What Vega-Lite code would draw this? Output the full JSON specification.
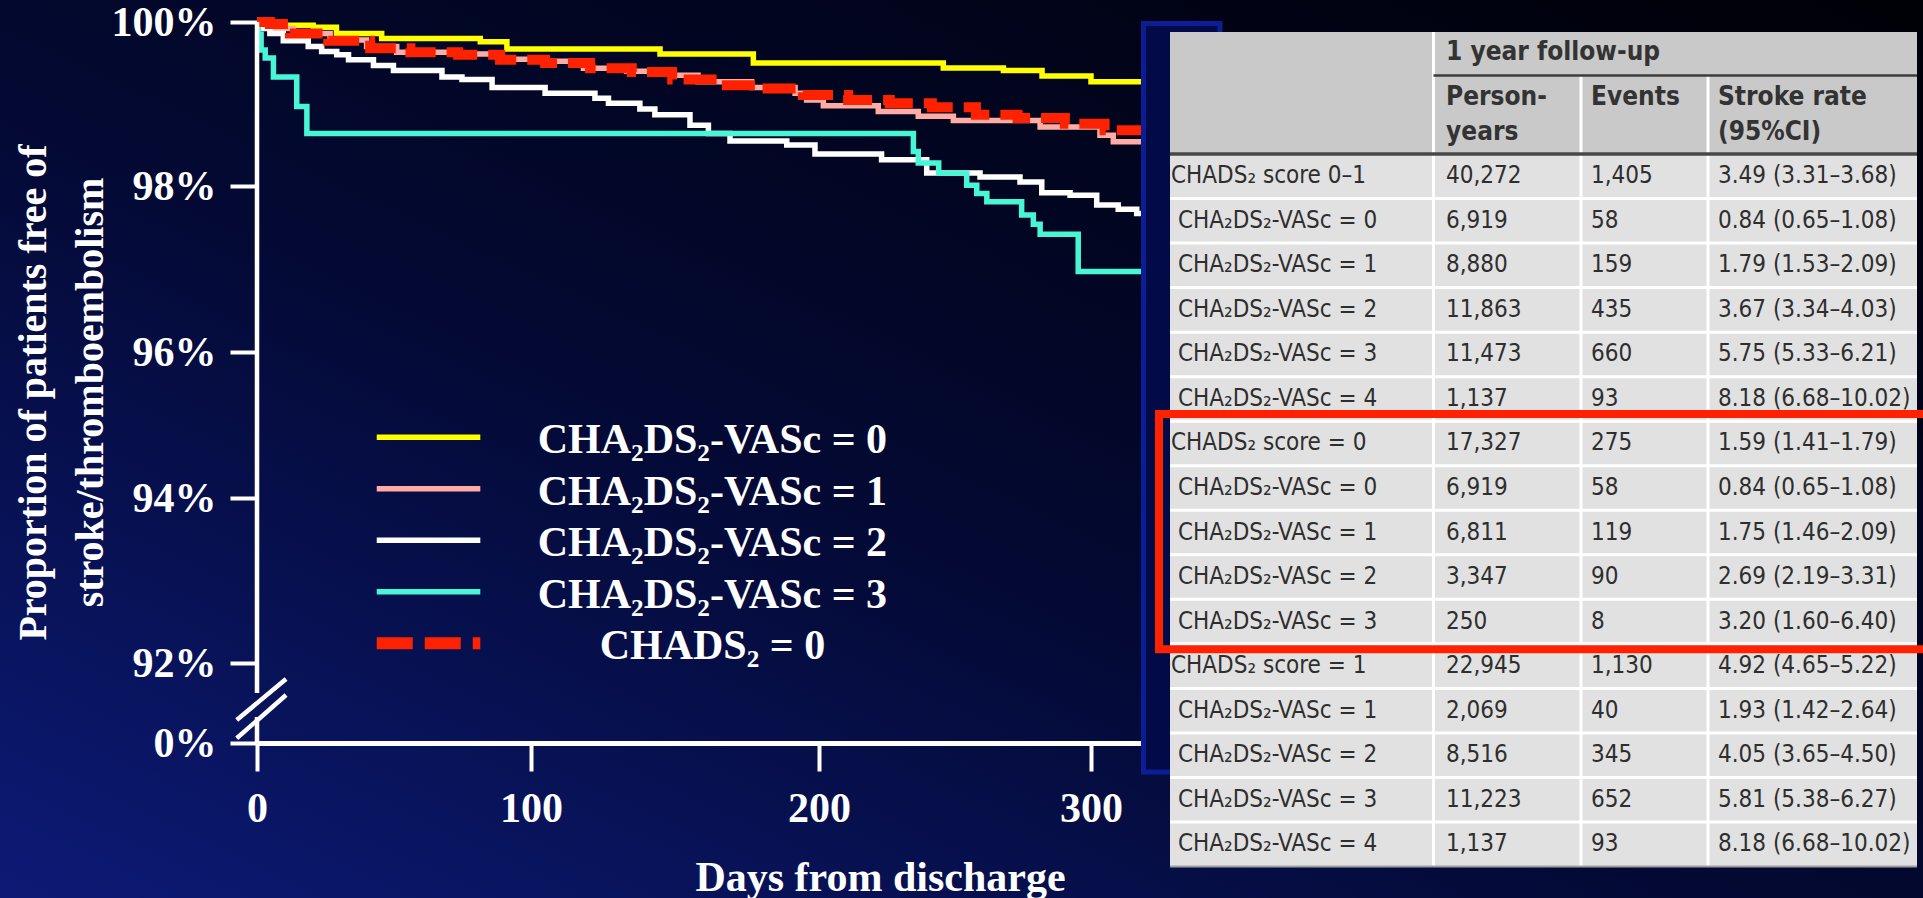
{
  "$schema": "https://vega.github.io/schema/vega-lite/v6.json",
  "width": 1923,
  "height": 898,
  "autosize": "none",
  "padding": 0,
  "background": "#02041e",
  "config": {
    "view": {
      "stroke": null,
      "fill": {"gradient": "linear", "x1": 0, "y1": 1, "x2": 1, "y2": 0,
        "stops": [{"offset": 0, "color": "#0c1a76"}, {"offset": 0.45, "color": "#030932"}, {"offset": 1, "color": "#000006"}]}
    }
  },
  "datasets": {
    "km": [
      {"s":"v0","d":0,"p":100},{"s":"v0","d":5.8,"p":99.96},{"s":"v0","d":20.5,"p":99.935},{"s":"v0","d":29,"p":99.86},{"s":"v0","d":45.5,"p":99.8},{"s":"v0","d":81.5,"p":99.76},{"s":"v0","d":91.2,"p":99.67},{"s":"v0","d":144.8,"p":99.61},{"s":"v0","d":177.2,"p":99.5},{"s":"v0","d":245.7,"p":99.44},{"s":"v0","d":267.8,"p":99.41},{"s":"v0","d":282,"p":99.34},{"s":"v0","d":300,"p":99.27},{"s":"v0","d":335,"p":99.27},
      {"s":"v1","d":0,"p":100},{"s":"v1","d":1,"p":99.96},{"s":"v1","d":4.7,"p":99.92},{"s":"v1","d":13.3,"p":99.86},{"s":"v1","d":26.7,"p":99.78},{"s":"v1","d":40,"p":99.7},{"s":"v1","d":51,"p":99.63},{"s":"v1","d":73,"p":99.61},{"s":"v1","d":88.8,"p":99.545},{"s":"v1","d":104.3,"p":99.52},{"s":"v1","d":118.2,"p":99.435},{"s":"v1","d":133.2,"p":99.4},{"s":"v1","d":148.9,"p":99.35},{"s":"v1","d":158,"p":99.27},{"s":"v1","d":176.6,"p":99.2},{"s":"v1","d":191.7,"p":99.13},{"s":"v1","d":195.7,"p":99.05},{"s":"v1","d":201.6,"p":98.98},{"s":"v1","d":221.8,"p":98.91},{"s":"v1","d":236.5,"p":98.85},{"s":"v1","d":249.4,"p":98.8},{"s":"v1","d":281.3,"p":98.72},{"s":"v1","d":303.3,"p":98.62},{"s":"v1","d":308.2,"p":98.54},{"s":"v1","d":335,"p":98.54},
      {"s":"v2","d":0,"p":100},{"s":"v2","d":1.5,"p":99.92},{"s":"v2","d":4.7,"p":99.86},{"s":"v2","d":9.6,"p":99.77},{"s":"v2","d":18.7,"p":99.7},{"s":"v2","d":23.6,"p":99.64},{"s":"v2","d":29.1,"p":99.6},{"s":"v2","d":33.4,"p":99.54},{"s":"v2","d":42.5,"p":99.47},{"s":"v2","d":49.8,"p":99.41},{"s":"v2","d":67.5,"p":99.33},{"s":"v2","d":74.8,"p":99.3},{"s":"v2","d":85.8,"p":99.2},{"s":"v2","d":104.9,"p":99.13},{"s":"v2","d":122.2,"p":99.07},{"s":"v2","d":126.9,"p":99.01},{"s":"v2","d":137.8,"p":98.94},{"s":"v2","d":143,"p":98.87},{"s":"v2","d":155.2,"p":98.74},{"s":"v2","d":161.6,"p":98.64},{"s":"v2","d":169.1,"p":98.55},{"s":"v2","d":188.8,"p":98.5},{"s":"v2","d":198.6,"p":98.39},{"s":"v2","d":223,"p":98.32},{"s":"v2","d":239.6,"p":98.16},{"s":"v2","d":259.2,"p":98.11},{"s":"v2","d":273.9,"p":98.05},{"s":"v2","d":281.9,"p":97.92},{"s":"v2","d":292.3,"p":97.89},{"s":"v2","d":302.1,"p":97.77},{"s":"v2","d":310,"p":97.72},{"s":"v2","d":316.8,"p":97.67},{"s":"v2","d":335,"p":97.67},
      {"s":"v3","d":0,"p":100},{"s":"v3","d":0.5,"p":99.85},{"s":"v3","d":1.5,"p":99.66},{"s":"v3","d":3,"p":99.56},{"s":"v3","d":6,"p":99.33},{"s":"v3","d":14.5,"p":98.97},{"s":"v3","d":18.2,"p":98.64},{"s":"v3","d":234.7,"p":98.42},{"s":"v3","d":236.5,"p":98.28},{"s":"v3","d":244,"p":98.155},{"s":"v3","d":254.3,"p":98.01},{"s":"v3","d":258,"p":97.91},{"s":"v3","d":261.7,"p":97.81},{"s":"v3","d":274.5,"p":97.65},{"s":"v3","d":278.8,"p":97.54},{"s":"v3","d":281.3,"p":97.42},{"s":"v3","d":295.3,"p":96.97},{"s":"v3","d":335,"p":96.97},
      {"s":"c0","d":0,"p":100},{"s":"c0","d":4.7,"p":99.975},{"s":"c0","d":12,"p":99.86},{"s":"c0","d":26,"p":99.77},{"s":"c0","d":41.3,"p":99.68},{"s":"c0","d":56,"p":99.63},{"s":"c0","d":73.4,"p":99.6},{"s":"c0","d":88.7,"p":99.54},{"s":"c0","d":104.9,"p":99.5},{"s":"c0","d":120.5,"p":99.435},{"s":"c0","d":135,"p":99.39},{"s":"c0","d":149,"p":99.3},{"s":"c0","d":165,"p":99.23},{"s":"c0","d":179.5,"p":99.19},{"s":"c0","d":194.4,"p":99.11},{"s":"c0","d":210.7,"p":99.05},{"s":"c0","d":226,"p":99.01},{"s":"c0","d":241.5,"p":98.96},{"s":"c0","d":257.7,"p":98.87},{"s":"c0","d":273,"p":98.83},{"s":"c0","d":290.4,"p":98.76},{"s":"c0","d":305,"p":98.68},{"s":"c0","d":335,"p":98.68}
    ],
    "legend": [
      {"s":"v0","label":"CHA₂DS₂-VASc = 0"},
      {"s":"v1","label":"CHA₂DS₂-VASc = 1"},
      {"s":"v2","label":"CHA₂DS₂-VASc = 2"},
      {"s":"v3","label":"CHA₂DS₂-VASc = 3"},
      {"s":"c0","label":"CHADS₂ = 0"}
    ],
    "breaks": [
      {"d":0,"p":100,"d2":0,"p2":57.5},
      {"d":0,"p":29.9,"d2":0,"p2":0},
      {"d":-7.4,"p":26.45,"d2":10.6,"p2":73.6},
      {"d":-7.4,"p":5.4,"d2":10.6,"p2":55.2}
    ],
    "table": [
      {"row":0,"kind":"g","label":"CHADS₂ score 0–1","py":"40,272","ev":"1,405","rate":"3.49 (3.31–3.68)"},
      {"row":1,"kind":"s","label":"CHA₂DS₂-VASc = 0","py":"6,919","ev":"58","rate":"0.84 (0.65–1.08)"},
      {"row":2,"kind":"s","label":"CHA₂DS₂-VASc = 1","py":"8,880","ev":"159","rate":"1.79 (1.53–2.09)"},
      {"row":3,"kind":"s","label":"CHA₂DS₂-VASc = 2","py":"11,863","ev":"435","rate":"3.67 (3.34–4.03)"},
      {"row":4,"kind":"s","label":"CHA₂DS₂-VASc = 3","py":"11,473","ev":"660","rate":"5.75 (5.33–6.21)"},
      {"row":5,"kind":"s","label":"CHA₂DS₂-VASc = 4","py":"1,137","ev":"93","rate":"8.18 (6.68–10.02)"},
      {"row":6,"kind":"g","label":"CHADS₂ score = 0","py":"17,327","ev":"275","rate":"1.59 (1.41–1.79)"},
      {"row":7,"kind":"s","label":"CHA₂DS₂-VASc = 0","py":"6,919","ev":"58","rate":"0.84 (0.65–1.08)"},
      {"row":8,"kind":"s","label":"CHA₂DS₂-VASc = 1","py":"6,811","ev":"119","rate":"1.75 (1.46–2.09)"},
      {"row":9,"kind":"s","label":"CHA₂DS₂-VASc = 2","py":"3,347","ev":"90","rate":"2.69 (2.19–3.31)"},
      {"row":10,"kind":"s","label":"CHA₂DS₂-VASc = 3","py":"250","ev":"8","rate":"3.20 (1.60–6.40)"},
      {"row":11,"kind":"g","label":"CHADS₂ score = 1","py":"22,945","ev":"1,130","rate":"4.92 (4.65–5.22)"},
      {"row":12,"kind":"s","label":"CHA₂DS₂-VASc = 1","py":"2,069","ev":"40","rate":"1.93 (1.42–2.64)"},
      {"row":13,"kind":"s","label":"CHA₂DS₂-VASc = 2","py":"8,516","ev":"345","rate":"4.05 (3.65–4.50)"},
      {"row":14,"kind":"s","label":"CHA₂DS₂-VASc = 3","py":"11,223","ev":"652","rate":"5.81 (5.38–6.27)"},
      {"row":15,"kind":"s","label":"CHA₂DS₂-VASc = 4","py":"1,137","ev":"93","rate":"8.18 (6.68–10.02)"}
    ]
  },
  "layer": [
    {
      "data": {"name": "km"},
      "transform": [{"filter": "datum.s !== 'c0'"}],
      "mark": {"type": "line", "interpolate": "step-after", "strokeWidth": 5.5, "clip": false},
      "encoding": {
        "x": {"field": "d", "type": "quantitative",
          "scale": {"domain": [0, 100, 200, 300, 400], "range": [257, 531, 819, 1091, 1363], "nice": false, "zero": false},
          "axis": {"orient": "bottom", "offset": -155, "values": [0, 100, 200, 300], "grid": false,
            "domain": true, "domainColor": "#ffffff", "domainWidth": 5,
            "ticks": true, "tickColor": "#ffffff", "tickWidth": 4, "tickSize": 28,
            "labelFlush": false, "labelAngle": 0, "labelFont": "Liberation Serif", "labelFontWeight": "bold", "labelFontSize": 42, "labelColor": "#ffffff",
            "labelPadding": 37, "labelBaseline": "middle",
            "title": "Days from discharge", "titleFont": "Liberation Serif", "titleFontWeight": "bold", "titleFontSize": 42, "titleColor": "#ffffff",
            "titleX": 880, "titleY": 147, "titleBaseline": "alphabetic", "titleAlign": "center"}},
        "y": {"field": "p", "type": "quantitative",
          "scale": {"domain": [0, 92, 94, 96, 98, 100], "range": [743, 663, 498, 352, 186, 22], "nice": false, "zero": false},
          "axis": {"orient": "left", "offset": -257, "values": [0, 92, 94, 96, 98, 100], "grid": false,
            "domain": false, "ticks": true, "tickColor": "#ffffff", "tickWidth": 4, "tickSize": 27,
            "labelExpr": "datum.value + '%'", "labelFont": "Liberation Serif", "labelFontWeight": "bold", "labelFontSize": 42, "labelColor": "#ffffff",
            "labelPadding": 14, "labelBaseline": "middle", "labelAlign": "right",
            "title": ["Proportion of patients free of", "stroke/thromboembolism"], "titleFont": "Liberation Serif", "titleFontWeight": "bold", "titleFontSize": 40, "titleColor": "#ffffff",
            "titleAngle": 270, "titleX": -212, "titleY": 392, "titleBaseline": "alphabetic", "titleAlign": "center", "titleLineHeight": 57}},
        "color": {"field": "s", "type": "nominal",
          "scale": {"domain": ["v0", "v1", "v2", "v3", "c0"], "range": ["#ffff00", "#ffaca4", "#ffffff", "#48f6d6", "#ff2200"]}, "legend": null}
      }
    },
    {
      "data": {"name": "km"},
      "transform": [{"filter": "datum.s === 'c0'"}],
      "mark": {"type": "line", "interpolate": "step-after", "strokeWidth": 10, "strokeDash": [33, 11], "color": "#ff2200", "clip": false},
      "encoding": {
        "x": {"field": "d", "type": "quantitative", "scale": {"domain": [0, 100, 200, 300, 400], "range": [257, 531, 819, 1091, 1363], "nice": false, "zero": false}, "axis": null},
        "y": {"field": "p", "type": "quantitative", "scale": {"domain": [0, 92, 94, 96, 98, 100], "range": [743, 663, 498, 352, 186, 22], "nice": false, "zero": false}, "axis": null}
      }
    },
    {
      "data": {"name": "breaks"},
      "mark": {"type": "rule", "color": "#ffffff", "strokeWidth": 4.5, "clip": false},
      "encoding": {
        "x": {"field": "d", "type": "quantitative", "scale": {"domain": [0, 100, 200, 300, 400], "range": [257, 531, 819, 1091, 1363], "nice": false, "zero": false}, "axis": null},
        "x2": {"field": "d2"},
        "y": {"field": "p", "type": "quantitative", "scale": {"domain": [0, 92, 94, 96, 98, 100], "range": [743, 663, 498, 352, 186, 22], "nice": false, "zero": false}, "axis": null},
        "y2": {"field": "p2"}
      }
    },
    {
      "data": {"name": "legend"},
      "transform": [{"filter": "datum.s !== 'c0'"}],
      "mark": {"type": "rule", "strokeWidth": 5.5},
      "encoding": {
        "x": {"datum": 43.7, "type": "quantitative", "scale": {"domain": [0, 100, 200, 300, 400], "range": [257, 531, 819, 1091, 1363], "nice": false, "zero": false}, "axis": null},
        "x2": {"datum": 81.5},
        "y": {"field": "s", "type": "ordinal", "scale": {"type": "point", "domain": ["v0", "v1", "v2", "v3", "c0"], "range": [437.3, 643.3], "padding": 0}, "axis": null},
        "color": {"field": "s", "type": "nominal", "scale": {"domain": ["v0", "v1", "v2", "v3", "c0"], "range": ["#ffff00", "#ffaca4", "#ffffff", "#48f6d6", "#ff2200"]}, "legend": null}
      }
    },
    {
      "data": {"name": "legend"},
      "transform": [{"filter": "datum.s === 'c0'"}],
      "mark": {"type": "rule", "strokeWidth": 12, "strokeDash": [36, 12], "color": "#ff2200"},
      "encoding": {
        "x": {"datum": 43.7, "type": "quantitative", "scale": {"domain": [0, 100, 200, 300, 400], "range": [257, 531, 819, 1091, 1363], "nice": false, "zero": false}, "axis": null},
        "x2": {"datum": 81.5},
        "y": {"field": "s", "type": "ordinal", "scale": {"type": "point", "domain": ["v0", "v1", "v2", "v3", "c0"], "range": [437.3, 643.3], "padding": 0}, "axis": null}
      }
    },
    {
      "data": {"name": "legend"},
      "mark": {"type": "text", "font": "Liberation Serif", "fontWeight": "bold", "fontSize": 42, "color": "#ffffff", "align": "center", "baseline": "middle", "dy": 3},
      "encoding": {
        "x": {"datum": 163, "type": "quantitative", "scale": {"domain": [0, 100, 200, 300, 400], "range": [257, 531, 819, 1091, 1363], "nice": false, "zero": false}, "axis": null},
        "y": {"field": "s", "type": "ordinal", "scale": {"type": "point", "domain": ["v0", "v1", "v2", "v3", "c0"], "range": [437.3, 643.3], "padding": 0}, "axis": null},
        "text": {"field": "label"}
      }
    },
    {
      "data": {"values": [{}]},
      "mark": {"type": "rect", "fill": "#020a48", "stroke": "#0c1e96", "strokeWidth": 5},
      "encoding": {
        "x": {"datum": -3.55, "type": "quantitative", "scale": {"domain": [0, 100], "range": [1170, 1917], "nice": false, "zero": false}, "axis": null},
        "x2": {"datum": 6.69},
        "y": {"datum": -2.93, "type": "quantitative", "scale": {"domain": [0, 16], "range": [154, 866.5], "nice": false, "zero": false}, "axis": null},
        "y2": {"datum": 13.88}
      }
    },
    {
      "data": {"values": [{}]},
      "mark": {"type": "rect", "fill": "#c9c9c9"},
      "encoding": {
        "x": {"datum": 0, "type": "quantitative", "scale": {"domain": [0, 100], "range": [1170, 1917], "nice": false, "zero": false}, "axis": null},
        "x2": {"datum": 100},
        "y": {"datum": -2.74, "type": "quantitative", "scale": {"domain": [0, 16], "range": [154, 866.5], "nice": false, "zero": false}, "axis": null},
        "y2": {"datum": 0}
      }
    },
    {
      "data": {"values": [{}]},
      "mark": {"type": "rect", "fill": "#e1e1e1"},
      "encoding": {
        "x": {"datum": 0, "type": "quantitative", "scale": {"domain": [0, 100], "range": [1170, 1917], "nice": false, "zero": false}, "axis": null},
        "x2": {"datum": 100},
        "y": {"datum": 0, "type": "quantitative", "scale": {"domain": [0, 16], "range": [154, 866.5], "nice": false, "zero": false}, "axis": null},
        "y2": {"datum": 16}
      }
    },
    {
      "data": {"name": "table"},
      "transform": [{"filter": "datum.row > 0"}],
      "mark": {"type": "rule", "color": "#ffffff", "strokeWidth": 3},
      "encoding": {
        "x": {"datum": 0, "type": "quantitative", "scale": {"domain": [0, 100], "range": [1170, 1917], "nice": false, "zero": false}, "axis": null},
        "x2": {"datum": 100},
        "y": {"field": "row", "type": "quantitative", "scale": {"domain": [0, 16], "range": [154, 866.5], "nice": false, "zero": false}, "axis": null}
      }
    },
    {
      "data": {"values": [{}]},
      "mark": {"type": "rule", "color": "#ffffff", "strokeWidth": 3},
      "encoding": {
        "x": {"datum": 35.27, "type": "quantitative", "scale": {"domain": [0, 100], "range": [1170, 1917], "nice": false, "zero": false}, "axis": null},
        "y": {"datum": -2.74, "type": "quantitative", "scale": {"domain": [0, 16], "range": [154, 866.5], "nice": false, "zero": false}, "axis": null},
        "y2": {"datum": 16}
      }
    },
    {
      "data": {"values": [{}]},
      "mark": {"type": "rule", "color": "#ffffff", "strokeWidth": 3},
      "encoding": {
        "x": {"datum": 55.02, "type": "quantitative", "scale": {"domain": [0, 100], "range": [1170, 1917], "nice": false, "zero": false}, "axis": null},
        "y": {"datum": -1.763, "type": "quantitative", "scale": {"domain": [0, 16], "range": [154, 866.5], "nice": false, "zero": false}, "axis": null},
        "y2": {"datum": 16}
      }
    },
    {
      "data": {"values": [{}]},
      "mark": {"type": "rule", "color": "#ffffff", "strokeWidth": 3},
      "encoding": {
        "x": {"datum": 72.02, "type": "quantitative", "scale": {"domain": [0, 100], "range": [1170, 1917], "nice": false, "zero": false}, "axis": null},
        "y": {"datum": -1.763, "type": "quantitative", "scale": {"domain": [0, 16], "range": [154, 866.5], "nice": false, "zero": false}, "axis": null},
        "y2": {"datum": 16}
      }
    },
    {
      "data": {"values": [{}]},
      "mark": {"type": "rule", "color": "#3c3c3c", "strokeWidth": 2.5},
      "encoding": {
        "x": {"datum": 35.27, "type": "quantitative", "scale": {"domain": [0, 100], "range": [1170, 1917], "nice": false, "zero": false}, "axis": null},
        "x2": {"datum": 100},
        "y": {"datum": -1.763, "type": "quantitative", "scale": {"domain": [0, 16], "range": [154, 866.5], "nice": false, "zero": false}, "axis": null}
      }
    },
    {
      "data": {"values": [{}]},
      "mark": {"type": "rule", "color": "#474747", "strokeWidth": 3.5},
      "encoding": {
        "x": {"datum": 0, "type": "quantitative", "scale": {"domain": [0, 100], "range": [1170, 1917], "nice": false, "zero": false}, "axis": null},
        "x2": {"datum": 100},
        "y": {"datum": 0, "type": "quantitative", "scale": {"domain": [0, 16], "range": [154, 866.5], "nice": false, "zero": false}, "axis": null}
      }
    },
    {
      "data": {"values": [{}]},
      "mark": {"type": "rule", "color": "#a0a0a0", "strokeWidth": 2},
      "encoding": {
        "x": {"datum": 0, "type": "quantitative", "scale": {"domain": [0, 100], "range": [1170, 1917], "nice": false, "zero": false}, "axis": null},
        "x2": {"datum": 100},
        "y": {"datum": 16, "type": "quantitative", "scale": {"domain": [0, 16], "range": [154, 866.5], "nice": false, "zero": false}, "axis": null}
      }
    },
    {
      "data": {"values": [{}]},
      "mark": {"type": "text", "text": "1 year follow-up", "font": "Liberation Sans Narrow, DejaVu Sans Condensed, Roboto", "fontWeight": "bold", "fontSize": 26, "color": "#333333", "align": "left", "baseline": "middle"},
      "encoding": {
        "x": {"datum": 36.95, "type": "quantitative", "scale": {"domain": [0, 100], "range": [1170, 1917], "nice": false, "zero": false}, "axis": null},
        "y": {"datum": -2.29, "type": "quantitative", "scale": {"domain": [0, 16], "range": [154, 866.5], "nice": false, "zero": false}, "axis": null}
      }
    },
    {
      "data": {"values": [{}]},
      "mark": {"type": "text", "text": "Person-", "font": "Liberation Sans Narrow, DejaVu Sans Condensed, Roboto", "fontWeight": "bold", "fontSize": 26, "color": "#333333", "align": "left", "baseline": "middle"},
      "encoding": {
        "x": {"datum": 36.95, "type": "quantitative", "scale": {"domain": [0, 100], "range": [1170, 1917], "nice": false, "zero": false}, "axis": null},
        "y": {"datum": -1.28, "type": "quantitative", "scale": {"domain": [0, 16], "range": [154, 866.5], "nice": false, "zero": false}, "axis": null}
      }
    },
    {
      "data": {"values": [{}]},
      "mark": {"type": "text", "text": "years", "font": "Liberation Sans Narrow, DejaVu Sans Condensed, Roboto", "fontWeight": "bold", "fontSize": 26, "color": "#333333", "align": "left", "baseline": "middle"},
      "encoding": {
        "x": {"datum": 36.95, "type": "quantitative", "scale": {"domain": [0, 100], "range": [1170, 1917], "nice": false, "zero": false}, "axis": null},
        "y": {"datum": -0.494, "type": "quantitative", "scale": {"domain": [0, 16], "range": [154, 866.5], "nice": false, "zero": false}, "axis": null}
      }
    },
    {
      "data": {"values": [{}]},
      "mark": {"type": "text", "text": "Events", "font": "Liberation Sans Narrow, DejaVu Sans Condensed, Roboto", "fontWeight": "bold", "fontSize": 26, "color": "#333333", "align": "left", "baseline": "middle"},
      "encoding": {
        "x": {"datum": 56.36, "type": "quantitative", "scale": {"domain": [0, 100], "range": [1170, 1917], "nice": false, "zero": false}, "axis": null},
        "y": {"datum": -1.28, "type": "quantitative", "scale": {"domain": [0, 16], "range": [154, 866.5], "nice": false, "zero": false}, "axis": null}
      }
    },
    {
      "data": {"values": [{}]},
      "mark": {"type": "text", "text": "Stroke rate", "font": "Liberation Sans Narrow, DejaVu Sans Condensed, Roboto", "fontWeight": "bold", "fontSize": 26, "color": "#333333", "align": "left", "baseline": "middle"},
      "encoding": {
        "x": {"datum": 73.36, "type": "quantitative", "scale": {"domain": [0, 100], "range": [1170, 1917], "nice": false, "zero": false}, "axis": null},
        "y": {"datum": -1.28, "type": "quantitative", "scale": {"domain": [0, 16], "range": [154, 866.5], "nice": false, "zero": false}, "axis": null}
      }
    },
    {
      "data": {"values": [{}]},
      "mark": {"type": "text", "text": "(95%CI)", "font": "Liberation Sans Narrow, DejaVu Sans Condensed, Roboto", "fontWeight": "bold", "fontSize": 26, "color": "#333333", "align": "left", "baseline": "middle"},
      "encoding": {
        "x": {"datum": 73.36, "type": "quantitative", "scale": {"domain": [0, 100], "range": [1170, 1917], "nice": false, "zero": false}, "axis": null},
        "y": {"datum": -0.494, "type": "quantitative", "scale": {"domain": [0, 16], "range": [154, 866.5], "nice": false, "zero": false}, "axis": null}
      }
    },
    {
      "data": {"name": "table"},
      "transform": [{"filter": "datum.kind === 'g'"}],
      "mark": {"type": "text", "font": "Liberation Sans Narrow, DejaVu Sans Condensed, Roboto", "fontSize": 24, "color": "#2e2e2e", "align": "left", "baseline": "middle"},
      "encoding": {
        "x": {"datum": 0.13, "type": "quantitative", "scale": {"domain": [0, 100], "range": [1170, 1917], "nice": false, "zero": false}, "axis": null},
        "y": {"field": "row", "type": "ordinal", "bandPosition": 0.5, "scale": {"type": "band", "domain": [0,1,2,3,4,5,6,7,8,9,10,11,12,13,14,15], "range": [154, 866.5], "paddingInner": 0, "paddingOuter": 0}, "axis": null},
        "text": {"field": "label"}
      }
    },
    {
      "data": {"name": "table"},
      "transform": [{"filter": "datum.kind === 's'"}],
      "mark": {"type": "text", "font": "Liberation Sans Narrow, DejaVu Sans Condensed, Roboto", "fontSize": 24, "color": "#2e2e2e", "align": "left", "baseline": "middle"},
      "encoding": {
        "x": {"datum": 1.07, "type": "quantitative", "scale": {"domain": [0, 100], "range": [1170, 1917], "nice": false, "zero": false}, "axis": null},
        "y": {"field": "row", "type": "ordinal", "bandPosition": 0.5, "scale": {"type": "band", "domain": [0,1,2,3,4,5,6,7,8,9,10,11,12,13,14,15], "range": [154, 866.5], "paddingInner": 0, "paddingOuter": 0}, "axis": null},
        "text": {"field": "label"}
      }
    },
    {
      "data": {"name": "table"},
      "mark": {"type": "text", "font": "Liberation Sans Narrow, DejaVu Sans Condensed, Roboto", "fontSize": 24, "color": "#2e2e2e", "align": "left", "baseline": "middle"},
      "encoding": {
        "x": {"datum": 36.95, "type": "quantitative", "scale": {"domain": [0, 100], "range": [1170, 1917], "nice": false, "zero": false}, "axis": null},
        "y": {"field": "row", "type": "ordinal", "bandPosition": 0.5, "scale": {"type": "band", "domain": [0,1,2,3,4,5,6,7,8,9,10,11,12,13,14,15], "range": [154, 866.5], "paddingInner": 0, "paddingOuter": 0}, "axis": null},
        "text": {"field": "py"}
      }
    },
    {
      "data": {"name": "table"},
      "mark": {"type": "text", "font": "Liberation Sans Narrow, DejaVu Sans Condensed, Roboto", "fontSize": 24, "color": "#2e2e2e", "align": "left", "baseline": "middle"},
      "encoding": {
        "x": {"datum": 56.36, "type": "quantitative", "scale": {"domain": [0, 100], "range": [1170, 1917], "nice": false, "zero": false}, "axis": null},
        "y": {"field": "row", "type": "ordinal", "bandPosition": 0.5, "scale": {"type": "band", "domain": [0,1,2,3,4,5,6,7,8,9,10,11,12,13,14,15], "range": [154, 866.5], "paddingInner": 0, "paddingOuter": 0}, "axis": null},
        "text": {"field": "ev"}
      }
    },
    {
      "data": {"name": "table"},
      "mark": {"type": "text", "font": "Liberation Sans Narrow, DejaVu Sans Condensed, Roboto", "fontSize": 24, "color": "#2e2e2e", "align": "left", "baseline": "middle"},
      "encoding": {
        "x": {"datum": 73.36, "type": "quantitative", "scale": {"domain": [0, 100], "range": [1170, 1917], "nice": false, "zero": false}, "axis": null},
        "y": {"field": "row", "type": "ordinal", "bandPosition": 0.5, "scale": {"type": "band", "domain": [0,1,2,3,4,5,6,7,8,9,10,11,12,13,14,15], "range": [154, 866.5], "paddingInner": 0, "paddingOuter": 0}, "axis": null},
        "text": {"field": "rate"}
      }
    },
    {
      "data": {"values": [{}]},
      "mark": {"type": "rect", "filled": false, "stroke": "#ff2200", "strokeWidth": 8},
      "encoding": {
        "x": {"datum": -1.47, "type": "quantitative", "scale": {"domain": [0, 100], "range": [1170, 1917], "nice": false, "zero": false}, "axis": null},
        "x2": {"datum": 102.4},
        "y": {"datum": 5.84, "type": "quantitative", "scale": {"domain": [0, 16], "range": [154, 866.5], "nice": false, "zero": false}, "axis": null},
        "y2": {"datum": 11.12}
      }
    }
  ],
  "resolve": {"scale": {"x": "independent", "y": "independent", "color": "independent"}}
}
